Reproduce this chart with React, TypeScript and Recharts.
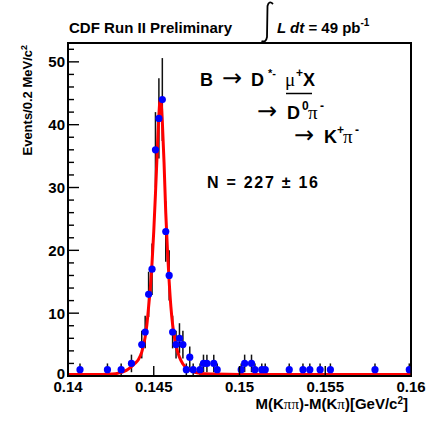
import React from "react";
import { ComposedChart, Line, Scatter, XAxis, YAxis, ErrorBar, ReferenceArea } from "recharts";

// histogram bins (centres, GeV/c^2) with entries and Poisson errors
const binCenters = [
  0.1407, 0.1423, 0.1431, 0.1437, 0.1443, 0.1445, 0.1447, 0.1449, 0.1451, 0.1453,
  0.1455, 0.1457, 0.1459, 0.1461, 0.1463, 0.1465, 0.1467, 0.1469, 0.1471, 0.1473,
  0.1477, 0.1479, 0.1481, 0.1485, 0.1487, 0.1501, 0.1503, 0.1507, 0.1509, 0.1513,
  0.1515, 0.1529, 0.1537, 0.1541, 0.1547, 0.1553, 0.1579, 0.1599,
];
const counts = [
  1, 1, 1, 2, 5, 7, 13, 17, 36, 41,
  44, 23, 16, 7, 5, 6, 5, 1, 3, 1,
  1, 2, 2, 2, 1, 1, 2, 2, 1, 1,
  1, 1, 1, 1, 1, 1, 1, 1,
];
const errors = [
  1, 1, 1, 1.4, 2.2, 2.6, 3.6, 4.1, 6, 6.4,
  6.6, 4.8, 4, 2.6, 2.2, 2.4, 2.2, 1, 1.7, 1,
  1, 1.4, 1.4, 1.4, 1, 1, 1.4, 1.4, 1, 1,
  1, 1, 1, 1, 1, 1, 1, 1,
];

// fit curve, sampled from the red line
const fitX = [
  0.14, 0.142, 0.1426, 0.143, 0.1434, 0.1437, 0.1439, 0.1441, 0.1443, 0.1445,
  0.1446, 0.1447, 0.1448, 0.1449, 0.145, 0.1451, 0.1452, 0.14528, 0.14535, 0.1454,
  0.14546, 0.1455, 0.1456, 0.1457, 0.1458, 0.1459, 0.146, 0.1461, 0.1462, 0.1463,
  0.1465, 0.1467, 0.147, 0.1474, 0.1478, 0.1485, 0.15, 0.16,
];
const fitY = [
  0.25, 0.25, 0.3, 0.5, 0.9, 1.5, 2.0, 2.6, 3.8, 6.2,
  8.2, 11, 14, 18, 23, 29, 35.5, 40.5, 43.5, 44,
  42.5, 40.5, 34, 26, 20, 15, 11, 8.2, 6.3, 4.8,
  3.0, 1.9, 1.1, 0.6, 0.4, 0.3, 0.25, 0.25,
];

const xTicks = [0.14, 0.145, 0.15, 0.155, 0.16];
const xTickLabels = ["0.14", "0.145", "0.15", "0.155", "0.16"];
const yTicks = [0, 2, 4, 6, 8, 10, 12, 14, 16, 18, 20, 22, 24, 26, 28, 30, 32, 34, 36, 38, 40, 42, 44, 46, 48, 50, 52];
const yLabelled = [0, 10, 20, 30, 40, 50];

const points = binCenters.map((x, i) => ({ x, y: counts[i], err: errors[i] }));
const fit = fitX.map((x, i) => ({ x, y: fitY[i] }));

const FONT = "'Liberation Sans', Arial, sans-serif";
const SYM = "'Liberation Serif', 'DejaVu Serif', serif";
const ARROW = "'DejaVu Sans', sans-serif";

function XTick(props: any) {
  const { x, y, index } = props;
  return (
    <g>
      <line x1={x} y1={y} x2={x} y2={y - 10} stroke="#000" strokeWidth={1.4} />
      <text x={x} y={y + 16} textAnchor="middle" fontFamily={FONT} fontWeight="bold" fontSize={15} fill="#000">
        {xTickLabels[index]}
      </text>
    </g>
  );
}

function YTick(props: any) {
  const { x, y, payload } = props;
  const v = payload.value;
  const major = yLabelled.includes(v);
  return (
    <g>
      <line x1={x} y1={y} x2={x + (major ? 11 : 6)} y2={y} stroke="#000" strokeWidth={1.4} />
      {major && (
        <text x={x - 3} y={y} dy={v === 0 ? "0.2em" : "0.36em"} textAnchor="end" fontFamily={FONT} fontWeight="bold" fontSize={15} fill="#000">
          {v}
        </text>
      )}
    </g>
  );
}

const dot = (p: any) => <circle cx={p.cx} cy={p.cy} r={3.6} fill="#0000ff" />;

export default function App() {
  return (
    <div style={{ position: "absolute", left: 0, top: 0, width: 441, height: 424, background: "#fff" }}>
      <ComposedChart width={441} height={424} margin={{ top: 43, right: 30, left: 28, bottom: 18 }}>
        <XAxis
          type="number"
          dataKey="x"
          domain={[0.14, 0.16]}
          ticks={xTicks}
          interval={0}
          height={30}
          tickSize={0}
          tickMargin={0}
          tickLine={false}
          tick={<XTick />}
          axisLine={{ stroke: "#000", strokeWidth: 2 }}
          allowDataOverflow
        />
        <YAxis
          type="number"
          dataKey="y"
          domain={[0, 53]}
          ticks={yTicks}
          interval={0}
          width={40}
          tickSize={0}
          tickMargin={0}
          tickLine={false}
          tick={<YTick />}
          axisLine={{ stroke: "#000", strokeWidth: 2 }}
          allowDataOverflow
        />
        <ReferenceArea x1={0.14} x2={0.16} y1={0} y2={53} fill="none" fillOpacity={0} stroke="#000" strokeWidth={2} ifOverflow="visible" />
        <Scatter data={points} shape={dot} isAnimationActive={false}>
          <ErrorBar dataKey="err" direction="y" width={0} stroke="#111" strokeWidth={1.5} isAnimationActive={false} />
        </Scatter>
        <Line data={fit} dataKey="y" type="monotone" stroke="#ff0000" strokeWidth={3} dot={false} isAnimationActive={false} />
      </ComposedChart>
      <svg width={441} height={424} style={{ position: "absolute", left: 0, top: 0, pointerEvents: "none" }}>
        <g fontFamily={FONT} fontWeight="bold" fill="#000">
          <text x={69} y={33} fontSize={15} textLength={163} lengthAdjust="spacing">CDF Run II Preliminary</text>
          <path d="M273 4 Q269 0 267.5 6 L267 37 Q266 43 261.5 41" stroke="#000" strokeWidth={1.8} fill="none" />
          <text x={277} y={33} fontSize={15}>
            <tspan fontStyle="italic">L dt</tspan> = 49 pb<tspan dy={-7} fontSize={10}>-1</tspan>
          </text>

          <text x={200} y={86} fontSize={18}>B</text>
          <text x={222} y={86} fontSize={24} fontFamily={ARROW} fontWeight="normal">→</text>
          <text x={251} y={86} fontSize={18}>D</text>
          <text x={268} y={77} fontSize={11}>*-</text>
          <text x={285} y={86} fontSize={19} fontFamily={SYM} fontWeight="normal">μ</text>
          <text x={296} y={77} fontSize={12}>+</text>
          <text x={303} y={86} fontSize={18}>X</text>
          <line x1={286} y1={93.5} x2={312} y2={93.5} stroke="#000" strokeWidth={1.5} />

          <text x={257} y={119} fontSize={24} fontFamily={ARROW} fontWeight="normal">→</text>
          <text x={287} y={119} fontSize={18}>D</text>
          <text x={302} y={110} fontSize={12}>0</text>
          <text x={308} y={119} fontSize={19} fontFamily={SYM} fontWeight="normal">π</text>
          <text x={320} y={110} fontSize={12}>-</text>

          <text x={294} y={143} fontSize={24} fontFamily={ARROW} fontWeight="normal">→</text>
          <text x={324} y={143} fontSize={18}>K</text>
          <text x={337} y={134} fontSize={12}>+</text>
          <text x={343} y={143} fontSize={19} fontFamily={SYM} fontWeight="normal">π</text>
          <text x={355} y={134} fontSize={12}>-</text>

          <text x={207} y={188} fontSize={16} textLength={111} lengthAdjust="spacing">N = 227 ± 16</text>

          <text transform="translate(31.5,45) rotate(-90)" textAnchor="end" fontSize={13}>
            Events/0.2 MeV/c<tspan dy={-5} fontSize={9}>2</tspan>
          </text>
          <text x={408} y={409} textAnchor="end" fontSize={15}>
            M(K<tspan fontFamily={SYM} fontWeight="normal">ππ</tspan>)-M(K<tspan fontFamily={SYM} fontWeight="normal">π</tspan>)[GeV/c<tspan dy={-5} fontSize={10}>2</tspan><tspan dy={5}>]</tspan>
          </text>
        </g>
      </svg>
    </div>
  );
}
